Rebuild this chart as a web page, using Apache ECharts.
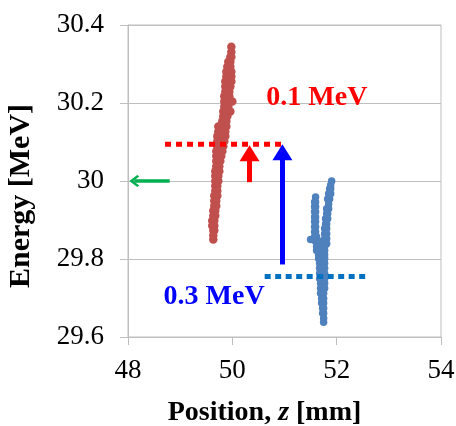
<!DOCTYPE html>
<html><head><meta charset="utf-8">
<script src="https://cdn.jsdelivr.net/npm/echarts@6/dist/echarts.min.js"></script>
<style>html,body{margin:0;padding:0;background:#fff}#c{width:456px;height:426px}</style>
</head><body><div id="c"></div>
<script>
// ---- axis ticks ----
const xTickValues = [48, 50, 52, 54];
const yTickValues = [29.6, 29.8, 30.0, 30.2, 30.4];
const xAxisTitle = 'Position, {i|z} [mm]';
const yAxisTitle = 'Energy [MeV]';

// ---- red beam (position z [mm], energy [MeV]) ----
const redBeam = [
  [49.981,30.344],[49.981,30.331],[49.962,30.318],[49.981,30.318],
  [49.923,30.306],[49.962,30.306],[49.904,30.293],[49.962,30.293],
  [49.885,30.280],[49.942,30.280],[49.981,30.280],
  [49.885,30.268],[49.942,30.268],[49.981,30.268],
  [49.865,30.255],[49.923,30.255],[49.981,30.255],
  [49.865,30.242],[49.923,30.242],[49.962,30.242],
  [49.865,30.229],[49.904,30.229],[49.942,30.229],
  [49.846,30.217],[49.904,30.217],[49.942,30.217],
  [49.846,30.204],[49.885,30.204],[49.923,30.204],[50.000,30.204],
  [49.846,30.191],[49.885,30.191],[49.923,30.191],
  [49.827,30.178],[49.865,30.178],[49.904,30.178],[49.962,30.178],
  [49.827,30.166],[49.865,30.166],[49.904,30.166],
  [49.808,30.153],[49.846,30.153],[49.885,30.153],
  [49.731,30.140],[49.788,30.140],[49.846,30.140],[49.885,30.140],
  [49.731,30.127],[49.788,30.127],[49.827,30.127],[49.865,30.127],
  [49.712,30.115],[49.769,30.115],[49.827,30.115],[49.865,30.115],
  [49.712,30.102],[49.769,30.102],[49.808,30.102],[49.846,30.102],
  [49.712,30.089],[49.769,30.089],[49.827,30.089],
  [49.692,30.076],[49.750,30.076],[49.808,30.076],
  [49.692,30.064],[49.731,30.064],[49.788,30.064],
  [49.692,30.051],[49.731,30.051],[49.769,30.051],
  [49.692,30.038],[49.731,30.038],[49.750,30.038],
  [49.673,30.025],[49.712,30.025],[49.750,30.025],
  [49.673,30.013],[49.712,30.013],[49.731,30.013],
  [49.673,30.000],[49.712,30.000],[49.731,30.000],
  [49.673,29.987],[49.712,29.987],[49.673,29.975],[49.712,29.975],
  [49.654,29.962],[49.712,29.962],[49.654,29.949],[49.692,29.949],
  [49.654,29.936],[49.692,29.936],[49.635,29.924],[49.673,29.924],
  [49.635,29.911],[49.673,29.911],[49.615,29.898],[49.654,29.898],
  [49.615,29.885],[49.654,29.885],[49.635,29.873],[49.654,29.873],
  [49.635,29.860],[49.635,29.850]
];

// ---- blue beam (position z [mm], energy [MeV]) ----
const blueBeam = [
  [51.904,30.000],[51.885,29.990],[51.865,29.980],[51.885,29.980],
  [51.846,29.967],[51.885,29.967],[51.596,29.959],
  [51.827,29.954],[51.865,29.954],[51.577,29.946],[51.596,29.946],
  [51.846,29.941],[51.577,29.934],[51.596,29.934],
  [51.808,29.929],[51.846,29.929],[51.577,29.921],[51.596,29.921],
  [51.808,29.916],[51.827,29.916],[51.577,29.908],[51.596,29.908],
  [51.788,29.903],[51.827,29.903],[51.577,29.896],[51.596,29.896],
  [51.788,29.890],[51.808,29.890],[51.577,29.883],[51.596,29.883],
  [51.769,29.878],[51.808,29.878],[51.577,29.870],[51.596,29.870],
  [51.769,29.865],[51.808,29.865],[51.577,29.857],[51.615,29.857],
  [51.769,29.852],[51.808,29.852],[51.500,29.850],
  [51.596,29.845],[51.635,29.845],[51.673,29.845],
  [51.769,29.839],[51.808,29.839],
  [51.615,29.832],[51.673,29.832],[51.731,29.832],[51.769,29.832],
  [51.615,29.822],[51.673,29.822],[51.712,29.822],[51.769,29.822],
  [51.654,29.811],[51.712,29.811],[51.769,29.811],
  [51.654,29.801],[51.712,29.801],[51.769,29.801],
  [51.673,29.789],[51.712,29.789],[51.769,29.789],
  [51.673,29.776],[51.712,29.776],[51.769,29.776],
  [51.673,29.763],[51.712,29.763],[51.769,29.763],
  [51.673,29.750],[51.731,29.750],[51.769,29.750],
  [51.692,29.738],[51.731,29.738],[51.769,29.738],
  [51.692,29.725],[51.731,29.725],[51.769,29.725],
  [51.692,29.712],[51.731,29.712],[51.750,29.712],
  [51.712,29.699],[51.750,29.699],[51.712,29.687],[51.750,29.687],
  [51.731,29.674],[51.750,29.674],[51.731,29.661],[51.750,29.661],
  [51.750,29.648],[51.750,29.638]
];

// ---- annotations ----
const redLevelLine  = [[48.71, 30.094], [51.03, 30.094]];
const blueLevelLine = [[50.62, 29.755], [52.57, 29.755]];
const redArrow   = [[50.33, 29.997], [50.33, 30.071]];
const blueArrow  = [[50.96, 29.786], [50.96, 30.074]];
const greenArrow = [[48.80, 30.000], [48.12, 30.000]];
const annotationLabels = ['0.1 MeV', '0.3 MeV'];
const annotationAnchors = [[51.62, 30.213], [49.65, 29.703]];

const serif = 'Liberation Serif';
const gray = '#BFBFBF';

const chart = echarts.init(document.getElementById('c'), null, {renderer: 'canvas'});

function arrowSeries(pts, color, width, symbol, size) {
  return {
    type: 'line', data: [], silent: true,
    markLine: {
      silent: true, animation: false,
      symbol: ['none', symbol], symbolSize: size,
      label: {show: false},
      emphasis: {disabled: true},
      lineStyle: {color: color, width: width, type: 'solid', opacity: 1},
      data: [[{coord: pts[0]}, {coord: pts[1]}]]
    },
    z: 6
  };
}

function levelSeries(pts, color, dash) {
  return {
    type: 'line', data: pts, symbol: 'none', silent: true,
    lineStyle: {color: color, width: 5, type: dash},
    z: 5, animation: false
  };
}

const option = {
  animation: false,
  backgroundColor: '#fff',
  grid: {left: 128, right: 15, top: 25, bottom: 89, show: true, borderColor: gray, borderWidth: 1,
    outerBoundsMode: 'none', containLabel: false},
  xAxis: {
    type: 'value',
    min: xTickValues[0], max: xTickValues[xTickValues.length - 1],
    interval: xTickValues[1] - xTickValues[0],
    name: xAxisTitle, nameLocation: 'middle', nameGap: 62,
    nameTextStyle: {fontFamily: serif, fontSize: 28, fontWeight: 'bold', color: '#000',
      padding: [0, 40, 0, 0],
      rich: {i: {fontFamily: serif, fontSize: 28, fontWeight: 'bold', fontStyle: 'italic', color: '#000'}}},
    axisLine: {show: true, lineStyle: {color: gray, width: 1}},
    axisTick: {show: true, length: 8, lineStyle: {color: gray}},
    axisLabel: {fontFamily: serif, fontSize: 27, color: '#000', margin: 20},
    splitLine: {show: false}
  },
  yAxis: {
    type: 'value',
    min: yTickValues[0], max: yTickValues[yTickValues.length - 1],
    interval: 0.2,
    name: yAxisTitle, nameLocation: 'middle', nameGap: 92,
    nameTextStyle: {fontFamily: serif, fontSize: 30, fontWeight: 'bold', color: '#000',
      padding: [0, 30, 0, 0]},
    axisLine: {show: true, lineStyle: {color: gray, width: 1}},
    axisTick: {show: true, length: 8, lineStyle: {color: gray}},
    axisLabel: {fontFamily: serif, fontSize: 27, color: '#000', margin: 24,
      formatter: v => String(Math.round(v * 10) / 10)},
    splitLine: {show: true, lineStyle: {color: gray, width: 1}}
  },
  series: [
    {type: 'scatter', data: redBeam, symbol: 'circle', symbolSize: 8.5,
      itemStyle: {color: '#C0504D', opacity: 1}, z: 2, silent: true},
    {type: 'scatter', data: blueBeam, symbol: 'circle', symbolSize: 7.5,
      itemStyle: {color: '#4F81BD', opacity: 1}, z: 2, silent: true},
    levelSeries(redLevelLine, '#FF0000', [6, 5]),
    levelSeries(blueLevelLine, '#0070C0', [6, 4.5]),
    arrowSeries(redArrow, '#FF0000', 5, 'triangle', [20, 16]),
    arrowSeries(blueArrow, '#0000FF', 5, 'triangle', [20, 16]),
    arrowSeries(greenArrow, '#00B050', 3.5,
      'path://M10,0 L20,10 L17.5,12.5 L10,5 L2.5,12.5 L0,10 Z', [12, 10]),
    {
      type: 'scatter', silent: true, z: 7,
      data: annotationAnchors.map((c, i) => ({
        value: c,
        label: {color: i === 0 ? '#FF0000' : '#0000FF', formatter: annotationLabels[i]}
      })),
      symbol: 'circle', symbolSize: 1,
      itemStyle: {color: 'rgba(0,0,0,0)'},
      label: {show: true, position: 'inside', opacity: 1,
        textBorderWidth: 0, textShadowBlur: 0,
        fontFamily: serif, fontSize: 28, fontWeight: 'bold'}
    }
  ]
};
chart.setOption(option);
</script>
</body></html>
